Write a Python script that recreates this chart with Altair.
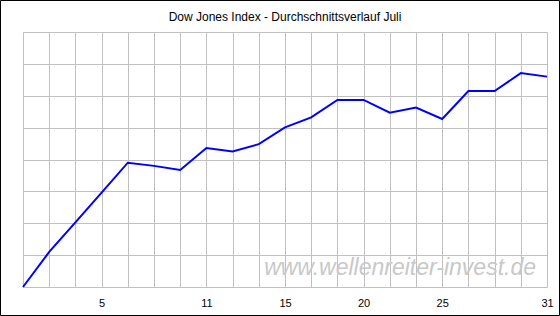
import altair as alt
import pandas as pd

# trading-day index (0..20) and average course (in grid units)
idx = list(range(21))
values = [0.0, 1.1, 2.03, 2.96, 3.9, 3.8, 3.67, 4.36, 4.25, 4.48, 5.01,
          5.32, 5.87, 5.87, 5.47, 5.63, 5.27, 6.15, 6.15, 6.71, 6.6]
tick_pos = [3, 7, 10, 13, 16, 20]
tick_labels = ["5", "11", "15", "20", "25", "31"]

labels_arr = [""] * 21
for p, l in zip(tick_pos, tick_labels):
    labels_arr[p] = l
label_expr = "[" + ",".join("'%s'" % s for s in labels_arr) + "][datum.value]"

df = pd.DataFrame({"i": idx, "v": values})

W, H = 524, 255

x = alt.X("i:Q", scale=alt.Scale(domain=[0, 20], nice=False, zero=False),
          axis=alt.Axis(values=idx, labelExpr=label_expr, ticks=False, domain=False,
                        grid=True, gridColor="#c0c0c0", gridWidth=1, gridOpacity=1,
                        labelFont="Liberation Sans", labelFontSize=11, labelColor="#000",
                        labelPadding=10, labelFlush=False, labelOverlap=False, title=None))
y = alt.Y("v:Q", scale=alt.Scale(domain=[0, 8], nice=False),
          axis=alt.Axis(values=list(range(9)), labels=False, ticks=False, domain=False,
                        grid=True, gridColor="#c0c0c0", gridWidth=1, gridOpacity=1,
                        title=None))

line = alt.Chart(df).mark_line(color="#0000ff", strokeWidth=2).encode(x=x, y=y)

wm = alt.Chart(pd.DataFrame({"i": [20], "v": [0.6], "t": ["www.wellenreiter-invest.de"]})).mark_text(
    align="right", baseline="middle", font="Liberation Sans", fontStyle="italic",
    fontSize=23, color="#c8c8c8", dx=-11
).encode(x=x, y=y, text="t:N")

frame = alt.Chart(pd.DataFrame({"a": [0]})).mark_rect(
    fill=None, stroke="#000", strokeWidth=1
).encode(x=alt.value(-22.5), x2=alt.value(W + 12.5), y=alt.value(-31.5), y2=alt.value(H + 28.5))

chart = alt.layer(wm, line, frame).properties(
    width=W, height=H,
    title=alt.TitleParams("Dow Jones Index - Durchschnittsverlauf Juli",
                          font="Liberation Sans", fontSize=12, fontWeight="normal",
                          color="#000", offset=0, dy=24, anchor="middle", frame="group"),
    autosize="none",
    padding={"left": 23, "top": 32, "right": 13, "bottom": 29},
).configure_view(stroke="#000", strokeWidth=1).configure(background="white")

chart.save("out.html", embed_options={"renderer": "svg", "actions": False})
